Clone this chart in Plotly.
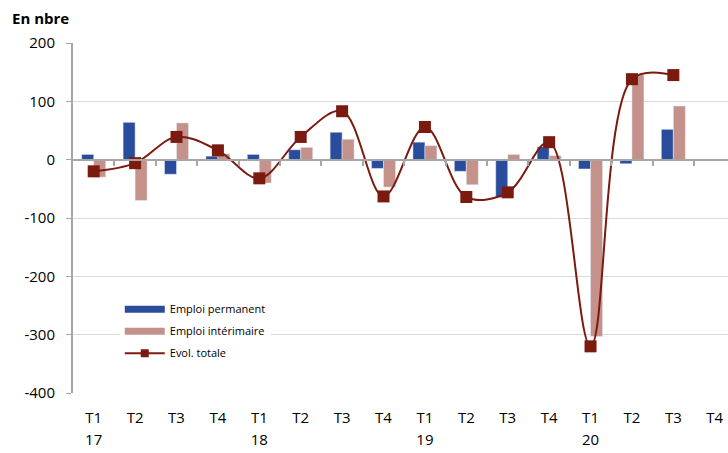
import plotly.graph_objects as go

quarters = ["T1", "T2", "T3", "T4"] * 4
years = ["17", "", "", "", "18", "", "", "", "19", "", "", "", "20", "", "", ""]

emploi_permanent = [9, 64, -25, 6, 9, 17, 47, -15, 30, -20, -65, 22, -16, -7, 52, None]
emploi_interimaire = [-30, -70, 63, 10, -40, 21, 35, -47, 24, -43, 9, 7, -303, 146, 92, None]
evol_totale = [-20, -6, 39, 16, -32, 39, 83, -63, 56, -64, -56, 30, -320, 138, 145, None]

y_ticks = [-400, -300, -200, -100, 0, 100, 200]
y_tick_labels = ["-400", "-300", "-200", "-100", "0", "100", "200"]

x_idx = list(range(len(quarters)))
boundaries = [i + 0.5 for i in range(len(quarters) - 1)]
year_idx = [i for i, y in enumerate(years) if y]
year_txt = [y for y in years if y]

BLUE = "#2A4C9C"
PINK = "#C4918B"
RED = "#7B1B0F"
GRID = "#D9D9D9"
AXIS = "#A6A6A6"
FONT = "Open Sans"

fig = go.Figure()
fig.add_trace(go.Bar(x=x_idx, y=emploi_permanent, marker_color=BLUE, showlegend=False,
                     name="Emploi permanent"))
fig.add_trace(go.Bar(x=x_idx, y=emploi_interimaire, marker_color=PINK, showlegend=False,
                     name="Emploi intérimaire"))
fig.add_trace(go.Scatter(x=x_idx, y=evol_totale, mode="lines+markers",
                         line=dict(color=RED, width=2, shape="spline", smoothing=1.0),
                         marker=dict(symbol="square", size=12, color=RED),
                         showlegend=False, name="Evol. totale"))
# legend entries
fig.add_trace(go.Scatter(x=[None], y=[None], mode="lines", line=dict(color=BLUE, width=7),
                         name="Emploi permanent", legendgroup="a"))
fig.add_trace(go.Scatter(x=[None], y=[None], mode="lines", line=dict(color=PINK, width=7),
                         name="Emploi intérimaire", legendgroup="b"))
fig.add_trace(go.Scatter(x=[None], y=[None], mode="lines+markers",
                         line=dict(color=RED, width=2),
                         marker=dict(symbol="square", size=8, color=RED),
                         name="Evol. totale", legendgroup="c"))

xr = [-0.5, 15.32]
y0frac = 400 / 600

fig.update_layout(
    width=728, height=453,
    margin=dict(l=73, r=0, t=43, b=60),
    paper_bgcolor="white", plot_bgcolor="white",
    barmode="group", bargap=0.42, bargroupgap=0,
    font=dict(family=FONT, size=15, color="#000000"),
    xaxis=dict(range=xr, tickmode="array", tickvals=x_idx, ticktext=quarters,
               showgrid=False, zeroline=False, showline=False, ticks="",
               tickfont=dict(size=15), ticklabelstandoff=14),
    xaxis2=dict(range=xr, overlaying="x", anchor="free", position=y0frac,
                showline=True, linecolor=AXIS, linewidth=2,
                tickmode="array", tickvals=boundaries, ticks="outside",
                ticklen=5, tickcolor=AXIS, tickwidth=1.5,
                showticklabels=False, showgrid=False, zeroline=False),
    xaxis3=dict(range=xr, overlaying="x", anchor="free", position=0, side="bottom",
                tickmode="array", tickvals=year_idx, ticktext=year_txt,
                showline=False, ticks="", showgrid=False, zeroline=False,
                tickfont=dict(size=15), ticklabelstandoff=36),
    yaxis=dict(range=[-400, 200], tickmode="array", tickvals=y_ticks,
               ticktext=y_tick_labels,
               showgrid=True, gridcolor=GRID, gridwidth=1,
               zeroline=False, showline=True, linecolor=AXIS, linewidth=2,
               ticks="outside", ticklen=5, tickcolor=AXIS,
               tickfont=dict(size=15), ticklabelstandoff=8),
    legend=dict(x=0.0714, y=0.281, xanchor="left", yanchor="top",
                bgcolor="white", font=dict(size=11), itemwidth=40,
                tracegroupgap=3),
)
fig.add_annotation(text="<b>En nbre</b>", xref="paper", yref="paper",
                   x=-63 / 655, y=1 + 25 / 350, xanchor="left", yanchor="middle",
                   showarrow=False, font=dict(size=15, family=FONT))
# dummy traces so overlay axes render
fig.add_trace(go.Scatter(x=[0], y=[None], xaxis="x2", showlegend=False, hoverinfo="skip"))
fig.add_trace(go.Scatter(x=[0], y=[None], xaxis="x3", showlegend=False, hoverinfo="skip"))

fig.write_html("out.html")
